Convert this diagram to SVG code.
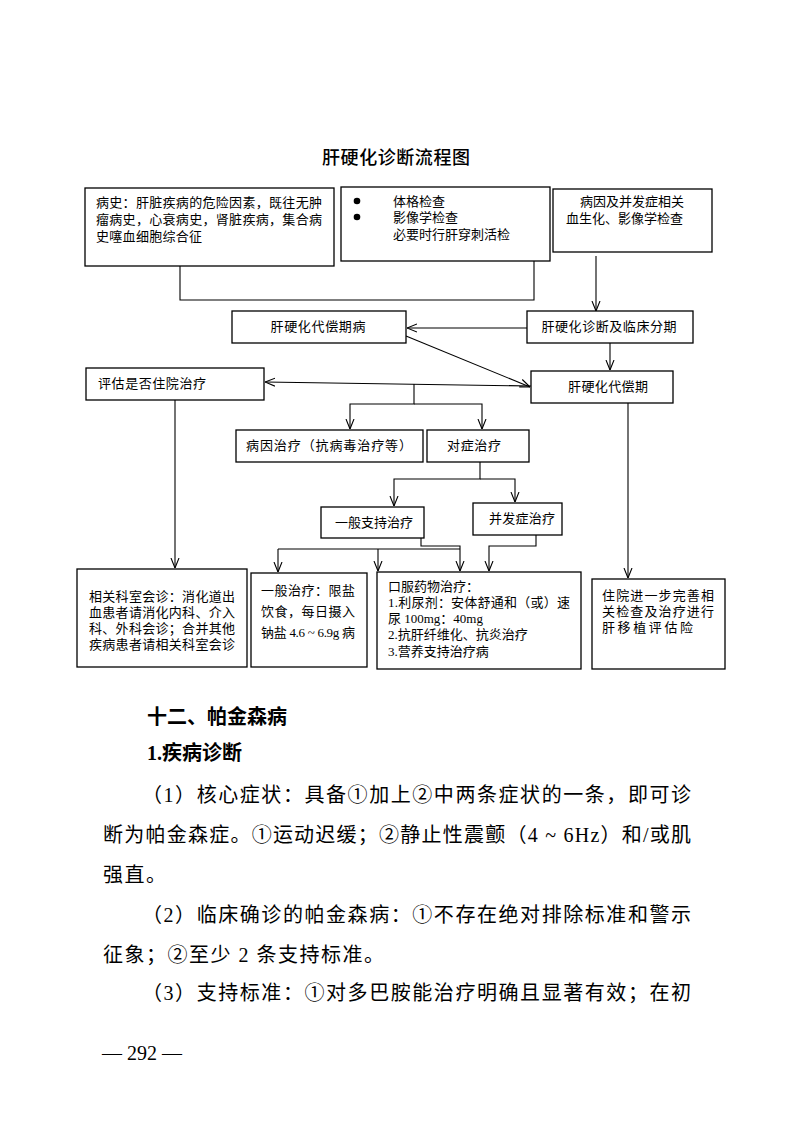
<svg xmlns="http://www.w3.org/2000/svg" width="793" height="1122" viewBox="0 0 793 1122">
<style>
.bx{fill:#fff;stroke:#000;stroke-width:1.3}
.t{font-family:"Liberation Serif","Noto Sans CJK SC",serif;font-size:13px;fill:#000}
.c{text-anchor:middle}
.ln{fill:none;stroke:#000;stroke-width:1.1}
.p{font-family:"Liberation Serif","Noto Sans CJK SC",serif;font-size:20px;fill:#000}
</style>
<defs>
<marker id="a" viewBox="0 0 10 10" refX="10" refY="5" markerWidth="10" markerHeight="10" markerUnits="userSpaceOnUse" orient="auto">
<path d="M0,1 L10,5 L0,9" fill="none" stroke="#000" stroke-width="1.1"/>
</marker>
</defs>
<rect width="793" height="1122" fill="#fff"/>

<text x="396" y="164" text-anchor="middle" font-family="Noto Sans CJK SC,sans-serif" font-size="18" font-weight="500" textLength="148" lengthAdjust="spacing">肝硬化诊断流程图</text>

<g id="connectors">
<path class="ln" d="M180,266 V300 H534 V261"/>
<path class="ln" d="M596,256 V311" marker-end="url(#a)"/>
<path class="ln" d="M527,328 H407" marker-end="url(#a)"/>
<path class="ln" d="M406,336 L530,387" marker-end="url(#a)"/>
<path class="ln" d="M610,343 V370" marker-end="url(#a)"/>
<path class="ln" d="M531,386 L265,382" marker-end="url(#a)"/>
<path class="ln" d="M414,384 V404 H350 V429" marker-end="url(#a)"/>
<path class="ln" d="M414,404 H482 V429" marker-end="url(#a)"/>
<path class="ln" d="M480,462 V479 H394 V506" marker-end="url(#a)"/>
<path class="ln" d="M480,479 H515 V502" marker-end="url(#a)"/>
<path class="ln" d="M421,538 V546 H460 V571" marker-end="url(#a)"/>
<path class="ln" d="M278,549 H460"/>
<path class="ln" d="M278,549 V572" marker-end="url(#a)"/>
<path class="ln" d="M378,549 V571" marker-end="url(#a)"/>
<path class="ln" d="M536,535 V546 H489 V571" marker-end="url(#a)"/>
<path class="ln" d="M175,400 V568" marker-end="url(#a)"/>
<path class="ln" d="M628,403 V578" marker-end="url(#a)"/>
</g>

<g id="n-history">
<rect class="bx" x="85" y="188" width="249" height="78"/>
<text class="t" x="96" y="207" textLength="226" lengthAdjust="spacing">病史：肝脏疾病的危险因素，既往无肿</text>
<text class="t" x="96" y="224" textLength="226" lengthAdjust="spacing">瘤病史，心衰病史，肾脏疾病，集合病</text>
<text class="t" x="96" y="241" letter-spacing="0.3">史噻血细胞综合征</text>
</g>

<g id="n-exam">
<rect class="bx" x="341" y="187" width="209" height="74"/>
<circle cx="357" cy="201" r="3.3"/>
<circle cx="357" cy="217" r="3.3"/>
<text class="t" x="393" y="206">体格检查</text>
<text class="t" x="393" y="222">影像学检查</text>
<text class="t" x="393" y="239">必要时行肝穿刺活检</text>
</g>

<g id="n-cause">
<rect class="bx" x="553" y="189" width="159" height="63"/>
<text class="t" x="580" y="206">病因及并发症相关</text>
<text class="t" x="566" y="223">血生化、影像学检查</text>
</g>

<g id="n-decomp">
<rect class="bx" x="232" y="311" width="174" height="32"/>
<text class="t c" x="318" y="331" textLength="95" lengthAdjust="spacing">肝硬化代偿期病</text>
</g>

<g id="n-diag">
<rect class="bx" x="527" y="311" width="166" height="32"/>
<text class="t c" x="609" y="331" textLength="135" lengthAdjust="spacing">肝硬化诊断及临床分期</text>
</g>

<g id="n-eval">
<rect class="bx" x="86" y="368" width="178" height="32"/>
<text class="t" x="98" y="388" textLength="108" lengthAdjust="spacing">评估是否住院治疗</text>
</g>

<g id="n-comp">
<rect class="bx" x="531" y="371" width="142" height="32"/>
<text class="t c" x="608" y="391" textLength="80" lengthAdjust="spacing">肝硬化代偿期</text>
</g>

<g id="n-etiology">
<rect class="bx" x="236" y="430" width="187" height="32"/>
<text class="t" x="246" y="450" textLength="166" lengthAdjust="spacing">病因治疗（抗病毒治疗等）</text>
</g>

<g id="n-symptom">
<rect class="bx" x="427" y="430" width="102" height="32" stroke-width="1.8"/>
<text class="t" x="447" y="450" textLength="54" lengthAdjust="spacing">对症治疗</text>
</g>

<g id="n-support">
<rect class="bx" x="321" y="507" width="103" height="31"/>
<text class="t" x="335" y="527" textLength="78" lengthAdjust="spacing">一般支持治疗</text>
</g>

<g id="n-complication">
<rect class="bx" x="473" y="503" width="89" height="32"/>
<text class="t" x="489" y="523" textLength="66" lengthAdjust="spacing">并发症治疗</text>
</g>

<g id="n-consult">
<rect class="bx" x="77" y="569" width="170" height="98"/>
<text class="t" x="89" y="601" textLength="146" lengthAdjust="spacing">相关科室会诊：消化道出</text>
<text class="t" x="89" y="617" textLength="146" lengthAdjust="spacing">血患者请消化内科、介入</text>
<text class="t" x="89" y="633" textLength="146" lengthAdjust="spacing">科、外科会诊；合并其他</text>
<text class="t" x="89" y="649" textLength="146" lengthAdjust="spacing">疾病患者请相关科室会诊</text>
</g>

<g id="n-general">
<rect class="bx" x="251" y="573" width="116" height="94"/>
<text class="t" x="261" y="595" textLength="94" lengthAdjust="spacing">一般治疗：限盐</text>
<text class="t" x="261" y="616" textLength="94" lengthAdjust="spacing">饮食，每日摄入</text>
<text class="t" x="261" y="637" textLength="94" lengthAdjust="spacing">钠盐 4.6 ~ 6.9g 病</text>
</g>

<g id="n-drug">
<rect class="bx" x="377" y="572" width="204" height="97"/>
<text class="t" x="388" y="591">口服药物治疗：</text>
<text class="t" x="388" y="607" textLength="182" lengthAdjust="spacing">1.利尿剂：安体舒通和（或）速</text>
<text class="t" x="388" y="623">尿 100mg：40mg</text>
<text class="t" x="388" y="639">2.抗肝纤维化、抗炎治疗</text>
<text class="t" x="388" y="656">3.营养支持治疗病</text>
</g>

<g id="n-hosp">
<rect class="bx" x="592" y="579" width="133" height="90"/>
<text class="t" x="602" y="600" textLength="112" lengthAdjust="spacing">住院进一步完善相</text>
<text class="t" x="602" y="616" textLength="112" lengthAdjust="spacing">关检查及治疗进行</text>
<text class="t" x="602" y="632" textLength="91" lengthAdjust="spacing">肝移植评估险</text>
</g>

<text x="147" y="724" font-family="Noto Sans CJK SC,sans-serif" font-size="20" font-weight="bold">十二、帕金森病</text>
<text x="147" y="760" font-family="Liberation Serif,Noto Sans CJK SC,serif" font-size="20" font-weight="bold">1.疾病诊断</text>
<text class="p" x="142" y="802" textLength="549" lengthAdjust="spacing">（1）核心症状：具备①加上②中两条症状的一条，即可诊</text>
<text class="p" x="103" y="842" textLength="588" lengthAdjust="spacing">断为帕金森症。①运动迟缓；②静止性震颤（4 ~ 6Hz）和/或肌</text>
<text class="p" x="103" y="882" letter-spacing="1.5">强直。</text>
<text class="p" x="142" y="922" textLength="549" lengthAdjust="spacing">（2）临床确诊的帕金森病：①不存在绝对排除标准和警示</text>
<text class="p" x="103" y="962" letter-spacing="1.5">征象；②至少 2 条支持标准。</text>
<text class="p" x="142" y="1000" textLength="549" lengthAdjust="spacing">（3）支持标准：①对多巴胺能治疗明确且显著有效；在初</text>
<text x="102" y="1060" font-family="Liberation Serif,serif" font-size="20">— 292 —</text>
</svg>
